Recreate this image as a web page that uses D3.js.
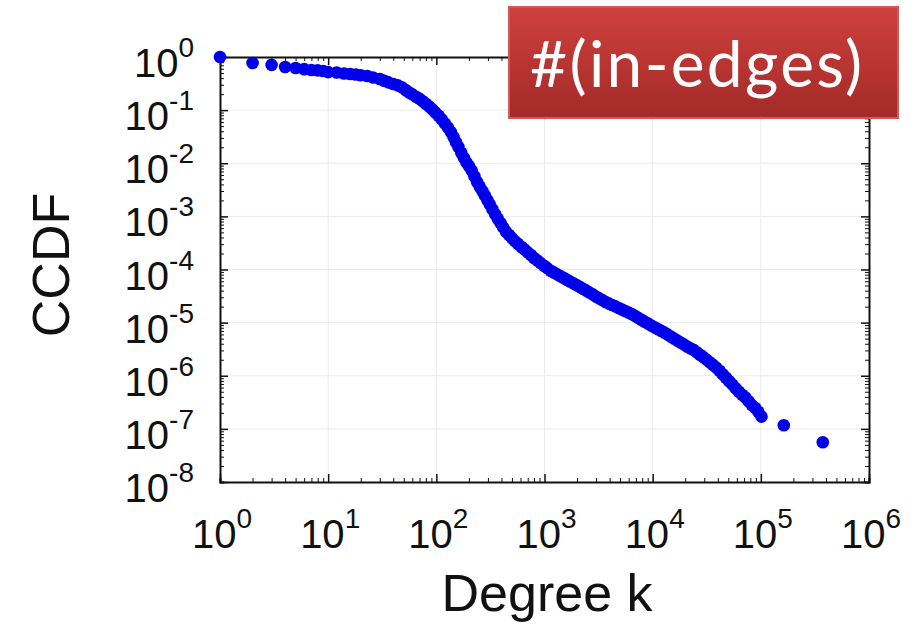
<!DOCTYPE html>
<html lang="en">
<head>
    <meta charset="utf-8" />
    <title>CCDF of in-degree</title>
    <script src="https://d3js.org/d3.v7.min.js"></script>
    <style>
        body { margin: 0; background: #fff; }
        .grid line { stroke: #ebebeb; stroke-width: 1px; }
        .axis path, .axis line { stroke: #111; }
        .axis path { stroke-width: 2px; }
        .tick-label { font-family: "Liberation Sans", Arial, sans-serif; fill: #111; }
    </style>
</head>
<body>
    <script>
        // degree k and CCDF
        var degree = [1,2,3,4,5,6,7,8,9,10,12,14,16,18,20,
            23,26,30,33,36,40,44,48,52,56,60,65,70,75,80,86,92,98,
            105,112,120,128,136,144,152,160,170,180,190,200,
            212,225,238,252,266,280,296,312,330,350,370,392,415,440,470,500,
            535,570,610,650,700,750,800,860,920,990,
            1060,1140,1220,1310,1400,1500,1610,1720,1850,1980,
            2120,2270,2430,2600,2790,2990,3200,3430,3680,3940,
            4220,4520,4850,5200,5570,5970,6400,6860,7350,7880,
            8450,9050,9700,10400,11150,11950,12800,13700,14700,15750,
            16900,18100,19400,20800,22300,23900,25600,27400,29400,31500,
            33700,36100,38700,41500,44400,47600,51000,54600,58500,62700,
            67200,72000,77100,82600,88500,94800,101500,163000,374000];

        var ccdf = [1.0,0.77,0.71,0.65,0.62,0.59,0.57,0.56,0.545,0.52,0.51,0.49,0.48,0.467,0.454,
            0.44,0.41,0.385,0.358,0.333,0.31,0.292,0.269,0.239,0.214,0.198,0.179,0.163,0.147,0.132,0.117,0.1026,0.090,
            0.0785,0.0675,0.056,0.0472,0.039,0.0311,0.0248,0.0202,0.0158,0.0126,0.01035,0.00885,
            0.0073,0.0057,0.00443,0.0036,0.003,0.0025,0.00203,0.00168,0.00136,0.0011,0.0009,0.00075,0.00062,0.000515,0.000445,0.00039,
            0.000338,0.000303,0.000268,0.00024,0.00021,0.000187,0.000165,0.000148,0.000132,0.000118,
            0.000106,9.48e-5,8.78e-5,8.09e-5,7.51e-5,6.98e-5,6.43e-5,5.94e-5,5.47e-5,5.08e-5,
            4.7e-5,4.34e-5,4.01e-5,3.69e-5,3.4e-5,3.11e-5,2.86e-5,2.65e-5,2.45e-5,2.28e-5,
            2.14e-5,2.02e-5,1.89e-5,1.77e-5,1.65e-5,1.55e-5,1.45e-5,1.34e-5,1.23e-5,1.13e-5,
            1.04e-5,9.6e-6,8.85e-6,8.19e-6,7.57e-6,7.03e-6,6.52e-6,6.0e-6,5.47e-6,5.02e-6,
            4.58e-6,4.22e-6,3.9e-6,3.56e-6,3.28e-6,3.07e-6,2.76e-6,2.48e-6,2.24e-6,2.01e-6,
            1.8e-6,1.6e-6,1.42e-6,1.24e-6,1.07e-6,9.2e-7,7.9e-7,6.8e-7,5.8e-7,5.0e-7,
            4.4e-7,3.9e-7,3.3e-7,2.8e-7,2.5e-7,2.1e-7,1.7e-7,1.17e-7,5.6e-8];

        // tick exponents
        var xExp = [0, 1, 2, 3, 4, 5, 6];
        var yExp = [0, -1, -2, -3, -4, -5, -6, -7, -8];

        var width = 923, height = 629;
        var pLeft = 220, pRight = 869, pTop = 57, pBottom = 482;

        var svg = d3.select("body").append("svg")
            .attr("width", width)
            .attr("height", height);

        var x = d3.scaleLog().domain([1, 1e6]).range([pLeft, pRight]);
        var y = d3.scaleLog().domain([1e-8, 1]).range([pBottom, pTop]);

        var xMajor = xExp.map(function (e) { return Math.pow(10, e); });
        var yMajor = yExp.map(function (e) { return Math.pow(10, e); });
        var xMinor = [], yMinor = [];
        xExp.slice(0, -1).forEach(function (e) {
            for (var m = 2; m < 10; m++) xMinor.push(m * Math.pow(10, e));
        });
        yExp.slice(1).forEach(function (e) {
            for (var m = 2; m < 10; m++) yMinor.push(m * Math.pow(10, e));
        });

        // grid
        var grid = svg.append("g").attr("class", "grid");
        grid.selectAll(".gx").data(xMajor.slice(1, -1)).enter().append("line")
            .attr("x1", function (d) { return x(d); }).attr("x2", function (d) { return x(d); })
            .attr("y1", pTop).attr("y2", pBottom);
        grid.selectAll(".gy").data(yMajor.slice(1, -1)).enter().append("line")
            .attr("y1", function (d) { return y(d); }).attr("y2", function (d) { return y(d); })
            .attr("x1", pLeft).attr("x2", pRight);

        // axes, ticks pointing inward on all four sides
        function drawAxis(axisFn, scale, major, minor, tx, ty) {
            var g = svg.append("g").attr("class", "axis")
                .attr("transform", "translate(" + tx + "," + ty + ")");
            g.call(axisFn(scale).tickValues(minor).tickSize(-4).tickFormat(""));
            var g2 = svg.append("g").attr("class", "axis")
                .attr("transform", "translate(" + tx + "," + ty + ")");
            g2.call(axisFn(scale).tickValues(major).tickSize(-8).tickFormat(""));
            g2.select(".domain").remove();
            g.selectAll(".tick line").attr("stroke-width", 1);
            g2.selectAll(".tick line").attr("stroke-width", 1.5);
        }
        drawAxis(d3.axisBottom, x, xMajor, xMinor, 0, pBottom);
        drawAxis(d3.axisTop, x, xMajor, xMinor, 0, pTop);
        drawAxis(d3.axisLeft, y, yMajor, yMinor, pLeft, 0);
        drawAxis(d3.axisRight, y, yMajor, yMinor, pRight, 0);

        // tick labels as 10 with superscript exponent
        svg.selectAll(".xl").data(xExp).enter().append("text")
            .attr("class", "tick-label")
            .attr("x", function (d) { return x(Math.pow(10, d)) + 2; })
            .attr("y", pBottom + 66)
            .attr("text-anchor", "middle")
            .each(function (d) {
                var t = d3.select(this);
                t.append("tspan").attr("font-size", 40).text("10");
                t.append("tspan").attr("font-size", 28).attr("dy", -20).text(d);
            });

        svg.selectAll(".yl").data(yExp).enter().append("text")
            .attr("class", "tick-label")
            .attr("x", 194)
            .attr("y", function (d) { return y(Math.pow(10, d)) + 20; })
            .attr("text-anchor", "end")
            .each(function (d) {
                var t = d3.select(this);
                t.append("tspan").attr("font-size", 40).text("10");
                t.append("tspan").attr("font-size", 28).attr("dy", -20).text(d);
            });

        // axis titles
        svg.append("text").attr("class", "tick-label")
            .attr("x", 547).attr("y", 611)
            .attr("text-anchor", "middle")
            .attr("font-size", 52)
            .text("Degree k");

        svg.append("text").attr("class", "tick-label")
            .attr("transform", "translate(69,265) rotate(-90)")
            .attr("text-anchor", "middle")
            .attr("font-size", 52)
            .text("CCDF");

        // points
        var pts = degree.map(function (k, i) { return { k: k, p: ccdf[i] }; });
        svg.append("g").selectAll("circle").data(pts).enter().append("circle")
            .attr("cx", function (d) { return x(d.k); })
            .attr("cy", function (d) { return y(d.p); })
            .attr("r", 6.3)
            .attr("fill", "#0000ea");

        // red label box
        var defs = svg.append("defs");
        var grad = defs.append("linearGradient").attr("id", "redgrad")
            .attr("x1", 0).attr("y1", 0).attr("x2", 0).attr("y2", 1);
        grad.append("stop").attr("offset", "0%").attr("stop-color", "#cf403c");
        grad.append("stop").attr("offset", "100%").attr("stop-color", "#a32a28");

        svg.append("rect")
            .attr("x", 509).attr("y", 7)
            .attr("width", 389).attr("height", 111)
            .attr("fill", "url(#redgrad)")
            .attr("stroke", "#d25a56")
            .attr("stroke-width", 2);

        svg.append("text")
            .attr("x", 530).attr("y", 87)
            .attr("font-family", "Lato, 'Open Sans', sans-serif")
            .attr("font-size", 64)
            .attr("fill", "#fff")
            .attr("textLength", 332)
            .attr("lengthAdjust", "spacing")
            .text("#(in-edges)");
    </script>
</body>
</html>
